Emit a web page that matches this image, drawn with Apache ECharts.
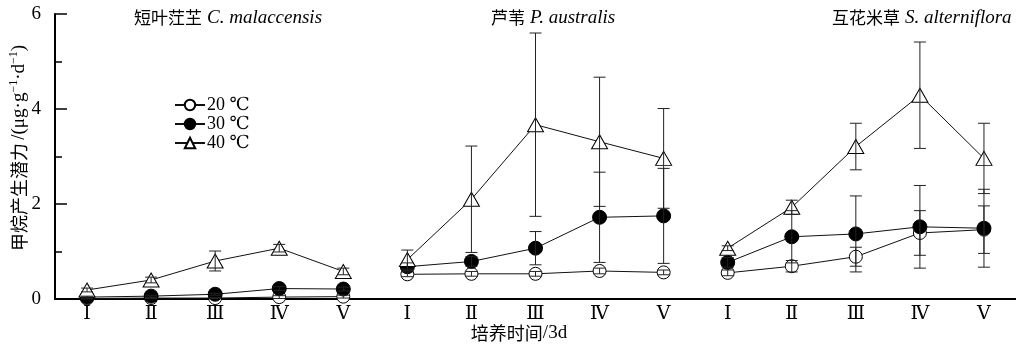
<!DOCTYPE html>
<html>
<head>
<meta charset="utf-8">
<script src="https://cdn.jsdelivr.net/npm/echarts@6/dist/echarts.min.js"></script>
<style>
html,body{margin:0;padding:0;background:#fff;}
#chart{width:1016px;height:346px;}
</style>
</head>
<body>
<div id="chart"></div>
<script>
// ---- data ----
const stages = ['Ⅰ','Ⅱ','Ⅲ','Ⅳ','Ⅴ'];
const speciesCn = ['短叶茳芏','芦苇','互花米草'];
const speciesLatin = ['C. malaccensis','P. australis','S. alterniflora'];
const tempNames = ['20 ℃','30 ℃','40 ℃'];
// means, panel order: C. malaccensis (I-V), P. australis (I-V), S. alterniflora (I-V)
const mean20 = [0.01,0.02,0.02,0.04,0.05, 0.52,0.53,0.53,0.59,0.56, 0.55,0.69,0.89,1.39,1.46];
const err20  = [0.01,0.01,0.01,0.03,0.03, 0.05,0.05,0.05,0.06,0.05, 0.06,0.12,0.20,0.47,0.50];
const mean30 = [0.04,0.06,0.10,0.22,0.21, 0.68,0.79,1.07,1.72,1.75, 0.77,1.31,1.37,1.52,1.49];
const err30  = [0.02,0.02,0.02,0.04,0.04, 0.08,0.10,0.35,0.95,1.00, 0.10,0.55,0.80,0.87,0.82];
const mean40 = [0.19,0.40,0.80,1.07,0.58, 0.83,2.10,3.67,3.31,2.96, 1.07,1.93,3.21,4.29,2.96];
const err40  = [0.04,0.06,0.21,0.08,0.07, 0.20,1.12,1.93,1.36,1.05, 0.05,0.15,0.49,1.12,0.74];
const yTicks = [0,2,4,6];

// ---- build ----
const xCats = [];
speciesCn.forEach(() => stages.forEach(s => xCats.push(s)));
const serif = '"Liberation Serif","DejaVu Serif","Noto Sans CJK SC",serif';
const cjk = '"Noto Sans CJK SC",sans-serif';

const symbolDefs = [
  {symbol:'circle', size:13, fill:'#fff'},
  {symbol:'circle', size:14, fill:'#000'},
  {symbol:'triangle', size:[16,14], fill:'#fff'}
];
const means = [mean20, mean30, mean40];
const errs = [err20, err30, err40];

const series = [];
means.forEach((m, t) => {
  for (let p = 0; p < 3; p++) {
    const d = m.map((v, i) => (Math.floor(i / 5) === p ? v : '-'));
    series.push({
      name: tempNames[t], type: 'line', data: d,
      symbol: symbolDefs[t].symbol, symbolSize: symbolDefs[t].size,
      showAllSymbol: true, clip: false,
      lineStyle: {color: '#111', width: 1},
      itemStyle: {color: symbolDefs[t].fill, borderColor: '#000', borderWidth: 1},
      z: 3, animation: false
    });
  }
  series.push({
    name: tempNames[t], type: 'custom', z: 4, animation: false,
    data: m.map((v, i) => [i, v, errs[t][i]]),
    encode: {x: 0, y: 1},
    renderItem: function (params, api) {
      const x = api.value(0), y = api.value(1), e = api.value(2);
      const top = api.coord([x, y + e]);
      const bot = api.coord([x, Math.max(0, y - e)]);
      const hw = 6;
      const st = {stroke: '#222', lineWidth: 1};
      return {type: 'group', children: [
        {type: 'line', shape: {x1: top[0], y1: top[1], x2: bot[0], y2: bot[1]}, style: st},
        {type: 'line', shape: {x1: top[0] - hw, y1: top[1], x2: top[0] + hw, y2: top[1]}, style: st},
        {type: 'line', shape: {x1: bot[0] - hw, y1: bot[1], x2: bot[0] + hw, y2: bot[1]}, style: st}
      ]};
    }
  });
});

const titleRich = {
  cn: {fontFamily: cjk, fontSize: 17, fontWeight: 'normal', color: '#000'},
  it: {fontFamily: '"Liberation Serif",serif', fontStyle: 'italic', fontWeight: 'normal', fontSize: 19, color: '#000'}
};
const titlePos = [{left: 134}, {left: 491}, {left: 832}];
const titles = speciesCn.map((cn, i) => Object.assign({
  text: '{cn|' + cn + '} {it|' + speciesLatin[i] + '}',
  top: 8, padding: 0,
  textStyle: {fontWeight: 'normal', rich: titleRich}
}, titlePos[i]));

const option = {
  backgroundColor: '#fff',
  animation: false,
  title: titles,
  grid: {left: 55, top: 14, width: 966, height: 285, containLabel: false},
  legend: {
    data: tempNames, orient: 'vertical', left: 169, top: 91,
    itemWidth: 30, itemHeight: 13, itemGap: 1,
    textStyle: {fontFamily: serif, fontSize: 18, lineHeight: 17, color: '#000', padding: [0,0,0,-3]},
    selectedMode: false
  },
  xAxis: [{
    type: 'category', data: xCats, boundaryGap: true,
    axisLine: {lineStyle: {color: '#000', width: 2}},
    axisTick: {alignWithLabel: true, inside: true, length: 8, lineStyle: {color: '#000', width: 2}},
    axisLabel: {fontFamily: serif, fontSize: 19, color: '#000', margin: 6, interval: 0},
    splitLine: {show: false}
  }, {
    type: 'category', data: xCats, boundaryGap: true, position: 'bottom',
    axisLine: {show: false},
    axisTick: {alignWithLabel: false, inside: true, length: 5, interval: 0, lineStyle: {color: '#000', width: 2}},
    axisLabel: {show: false},
    splitLine: {show: false}
  }],
  yAxis: {
    type: 'value', min: yTicks[0], max: yTicks[yTicks.length - 1], interval: yTicks[1] - yTicks[0],
    axisLine: {show: true, lineStyle: {color: '#000', width: 2}},
    axisTick: {show: true, inside: true, length: 12, lineStyle: {color: '#000', width: 1.5}},
    minorTick: {show: true, splitNumber: 2, length: 7, lineStyle: {color: '#000', width: 1.5}},
    axisLabel: {fontFamily: serif, fontSize: 19, color: '#000', margin: 14},
    splitLine: {show: false}
  },
  graphic: [{
    type: 'text', x: 19, y: 148, rotation: Math.PI / 2,
    style: {
      text: '{cn|甲烷产生潜力} {a|/(μg·g}{s|−1}{a|·d}{s|−1}{a|)}',
      align: 'center', verticalAlign: 'middle',
      rich: {
        cn: {fontFamily: cjk, fontSize: 18, fill: '#000'},
        a: {fontFamily: '"Liberation Serif",serif', fontSize: 19, fill: '#000'},
        s: {fontFamily: '"Liberation Serif",serif', fontSize: 12, fill: '#000', padding: [0,0,10,0]}
      }
    }
  }, {
    type: 'text', x: 519, y: 333,
    style: {
      text: '{cn|培养时间}{a|/3d}', align: 'center', verticalAlign: 'middle',
      rich: {
        cn: {fontFamily: cjk, fontSize: 18, fill: '#000'},
        a: {fontFamily: '"Liberation Serif",serif', fontSize: 19, fill: '#000'}
      }
    }
  }],
  series: series
};

const chart = echarts.init(document.getElementById('chart'), null, {renderer: 'canvas'});
chart.setOption(option);
</script>
</body>
</html>
